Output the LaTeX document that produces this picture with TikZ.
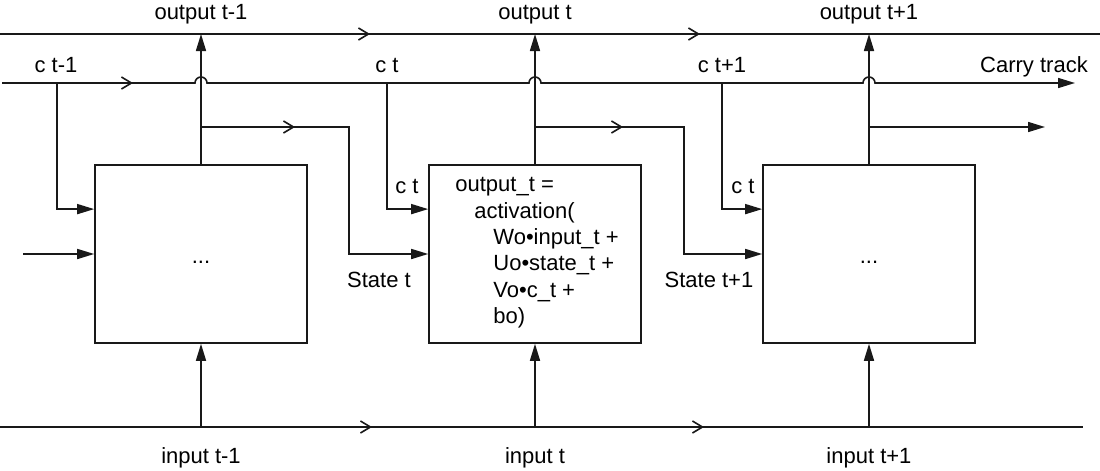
\documentclass[tikz,border=0pt]{standalone}
\usepackage{fontspec}
\setmainfont{Liberation Sans}
\usetikzlibrary{positioning}
\usetikzlibrary{arrows.meta}
\usetikzlibrary{calc}
\usetikzlibrary{decorations.markings}
\tikzset{
node distance = 60.2pt,
   cell/.style = {%
    shape=rectangle,
    draw=black!90,
    line width=0.8pt,
    minimum width=106pt,
    minimum height=89pt,
    inner sep=0pt},
   wire/.style = {%
    draw=black!90,
    line width=0.8pt},
   feed/.style = {%
    wire,
    -{Triangle[length=8.5pt,width=5pt]}},% <-- filled tips
   tick/.style = {%
    postaction={decorate,
      decoration={markings,
        mark=at position #1 with {\arrow{Straight Barb[length=5pt,width=6pt]}}}}},
   lbl/.style = {%
    anchor=base,
    inner sep=0pt,
    font=\fontsize{11}{13.2}\selectfont},
    }

\begin{document}
\begin{tikzpicture}[x=0.5pt, y=-0.5pt]
    \useasboundingbox (0,0) rectangle (1100,471);
    % cells
    \node[cell] (box1) at (201,254) {};
    \node[cell, right=of box1] (box2) {};
    \node[cell, right=of box2] (box3) {};
    \node[lbl] (dots1) at (box1 |- 0,263) {...};
    \node[lbl] (dots3) at (box3 |- 0,263) {...};
    \node[lbl, anchor=north west, align=left] (formula) at (455,177)
        {output\_t =\\
         \hspace*{9.5pt}activation(\\
         \hspace*{19pt}Wo•input\_t +\\
         \hspace*{19pt}Uo•state\_t +\\
         \hspace*{19pt}Vo•c\_t +\\
         \hspace*{19pt}bo)};

    % track ends
    \coordinate (otop) at (0,34);
    \coordinate (otopend) at (1100,34);
    \coordinate (cin) at (2,83);
    \coordinate (cout) at (1075,83);
    \coordinate (iin) at (0,427);
    \coordinate (iout) at (1083,427);
    \coordinate (tap1) at (57,83);
    \coordinate (tap2) at (387,83);
    \coordinate (tap3) at (722,83);
    \coordinate (sbend1) at (349,127);
    \coordinate (sbend2) at (684,127);
    \coordinate (sout) at (1045,127);
    \coordinate (sin) at (23,254);

    % output track
    \draw[wire, tick=185pt, tick=350pt] (otop) -- (otopend);
    % carry track, hopping over the outputs
    \draw[feed, tick=65.5pt] (cin)
        -- ($(box1.north |- cin)+(-3pt,0)$) arc[start angle=180, end angle=0, radius=3pt]
        -- ($(box2.north |- cin)+(-3pt,0)$) arc[start angle=180, end angle=0, radius=3pt]
        -- ($(box3.north |- cin)+(-3pt,0)$) arc[start angle=180, end angle=0, radius=3pt]
        -- (cout);
    % input track
    \draw[wire, tick=186pt, tick=352pt] (iin) -- (iout);

    % outputs
    \draw[feed] (box1.north) -- (box1.north |- otop);
    \draw[feed] (box2.north) -- (box2.north |- otop);
    \draw[feed] (box3.north) -- (box3.north |- otop);
    % inputs
    \draw[feed] (box1.south |- iin) -- (box1.south);
    \draw[feed] (box2.south |- iin) -- (box2.south);
    \draw[feed] (box3.south |- iin) -- (box3.south);
    % carry taps
    \draw[feed] (tap1) |- ($(box1.north west)!0.25!(box1.south west)$);
    \draw[feed] (tap2) |- ($(box2.north west)!0.25!(box2.south west)$);
    \draw[feed] (tap3) |- ($(box3.north west)!0.25!(box3.south west)$);
    % states
    \draw[feed] (sin) -- (box1.west);
    \draw[feed, tick=47pt] (box1.north |- sbend1) -- (sbend1) |- (box2.west);
    \draw[feed, tick=44pt] (box2.north |- sbend2) -- (sbend2) |- (box3.west);
    \draw[feed] (box3.north |- sout) -- (sout);

    % labels
    \node[lbl] (lout1) at (201,19) {output t-1};
    \node[lbl] (lout2) at (535,19) {output t};
    \node[lbl] (lout3) at (869,19) {output t+1};
    \node[lbl] (lc1) at (56,72) {c t-1};
    \node[lbl] (lc2) at (387,72) {c t};
    \node[lbl] (lc3) at (722,72) {c t+1};
    \node[lbl] (lcarry) at (1034,72) {Carry track};
    \node[lbl] (lct2) at (407,193) {c t};
    \node[lbl] (lct3) at (743,193) {c t};
    \node[lbl] (lst2) at (379,287) {State t};
    \node[lbl] (lst3) at (709,287) {State t+1};
    \node[lbl] (lin1) at (201,463) {input t-1};
    \node[lbl] (lin2) at (535,463) {input t};
    \node[lbl] (lin3) at (869,463) {input t+1};
\end{tikzpicture}
\end{document}
